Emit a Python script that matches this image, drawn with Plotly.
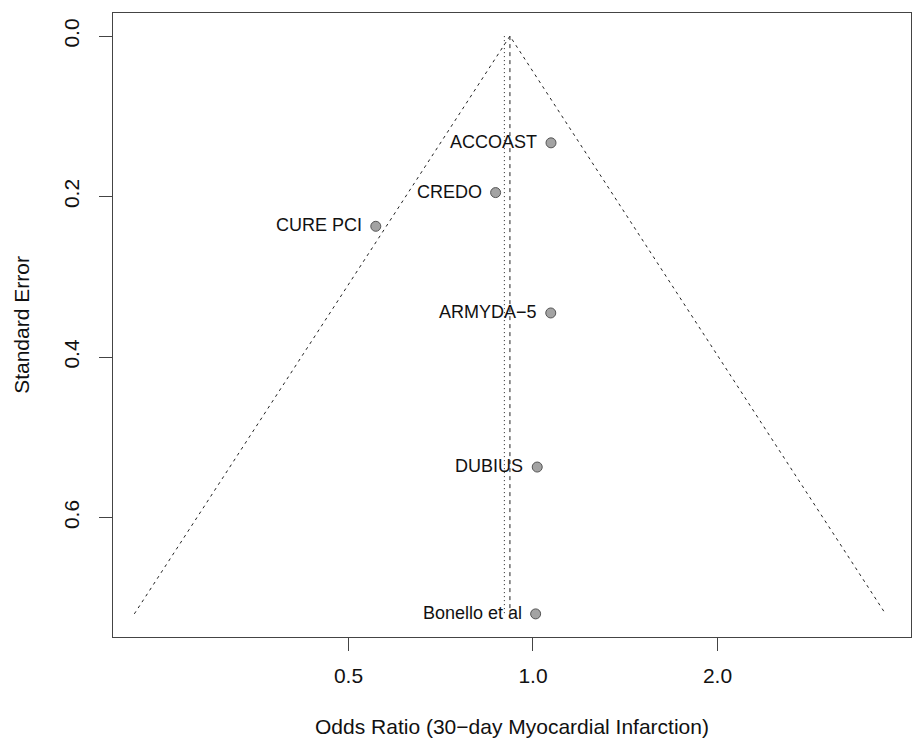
import numpy as np
import plotly.graph_objects as go

# ---- data ----
studies = ["ACCOAST", "CREDO", "CURE PCI", "ARMYDA\u22125", "DUBIUS", "Bonello et al"]
odds_ratio = [1.07, 0.869, 0.554, 1.069, 1.016, 1.010]
std_error = [0.133, 0.195, 0.237, 0.345, 0.537, 0.720]

pooled_or = 0.917      # summary estimate (funnel apex, dashed line)
reference_or = 0.898   # dotted reference line
se_max = 0.72
z_crit = 1.96

x_ticks = [0.5, 1.0, 2.0]
x_tick_labels = ["0.5", "1.0", "2.0"]
y_ticks = [0.0, 0.2, 0.4, 0.6]
y_tick_labels = ["0.0", "0.2", "0.4", "0.6"]

# pseudo 95% confidence region of the funnel
lp = np.log(pooled_or)
funnel_x = [np.exp(lp - z_crit * se_max), pooled_or, np.exp(lp + z_crit * se_max)]
funnel_y = [se_max, 0.0, se_max]

FONT = "Liberation Sans, Arial, sans-serif"
LINE = "#222222"

fig = go.Figure()

fig.add_trace(go.Scatter(
    x=funnel_x, y=funnel_y, mode="lines",
    line=dict(color=LINE, width=1, dash="3px,4px"),
    hoverinfo="skip", showlegend=False))

fig.add_trace(go.Scatter(
    x=[reference_or, reference_or], y=[0.0, se_max], mode="lines",
    line=dict(color=LINE, width=1, dash="1px,3px"),
    hoverinfo="skip", showlegend=False))

fig.add_trace(go.Scatter(
    x=[pooled_or, pooled_or], y=[0.0, se_max], mode="lines",
    line=dict(color=LINE, width=1, dash="4px,4px"),
    hoverinfo="skip", showlegend=False))

fig.add_trace(go.Scatter(
    x=odds_ratio, y=std_error, mode="markers",
    text=studies, hovertemplate="%{text}<br>OR %{x}<br>SE %{y}<extra></extra>",
    marker=dict(size=10, color="#a3a3a3", line=dict(color="#555555", width=1)),
    showlegend=False))

for name, orv, se in zip(studies, odds_ratio, std_error):
    fig.add_annotation(
        x=np.log10(orv), y=se, xref="x", yref="y",
        text=name, showarrow=False,
        xanchor="right", yanchor="middle", xshift=-12, yshift=1,
        font=dict(family=FONT, size=18, color="#111111"))

# axis ranges (log10 for x), matched to the reference's plot box
x_lo, x_hi = -0.6853, 0.6168
y_lo, y_hi = -0.0288, 0.7488

fig.update_layout(
    width=912, height=744,
    margin=dict(l=113, r=1, t=13, b=107),
    plot_bgcolor="white", paper_bgcolor="white",
    font=dict(family=FONT, size=21, color="#111111"),
    showlegend=False,
    xaxis=dict(
        type="log", range=[x_lo, x_hi],
        tickmode="array", tickvals=x_ticks, ticktext=x_tick_labels,
        ticks="outside", ticklen=13, tickcolor="#444444", tickwidth=1,
        showgrid=False, zeroline=False,
        showline=True, mirror=True, linecolor="#444444", linewidth=1,
        ticklabelstandoff=7,
        title=dict(text="Odds Ratio (30\u2212day Myocardial Infarction)",
                   font=dict(size=21), standoff=33),
        automargin=False,
    ),
    yaxis=dict(
        range=[y_hi, y_lo],
        tickmode="array", tickvals=y_ticks, ticktext=y_tick_labels,
        ticks="outside", ticklen=13, tickcolor="#444444", tickwidth=1,
        tickangle=-90,
        showgrid=False, zeroline=False,
        showline=True, mirror=True, linecolor="#444444", linewidth=1,
        ticklabelstandoff=12,
        title=dict(text="Standard Error", font=dict(size=21), standoff=24),
        automargin=False,
    ),
)

fig.write_html("out.html")
